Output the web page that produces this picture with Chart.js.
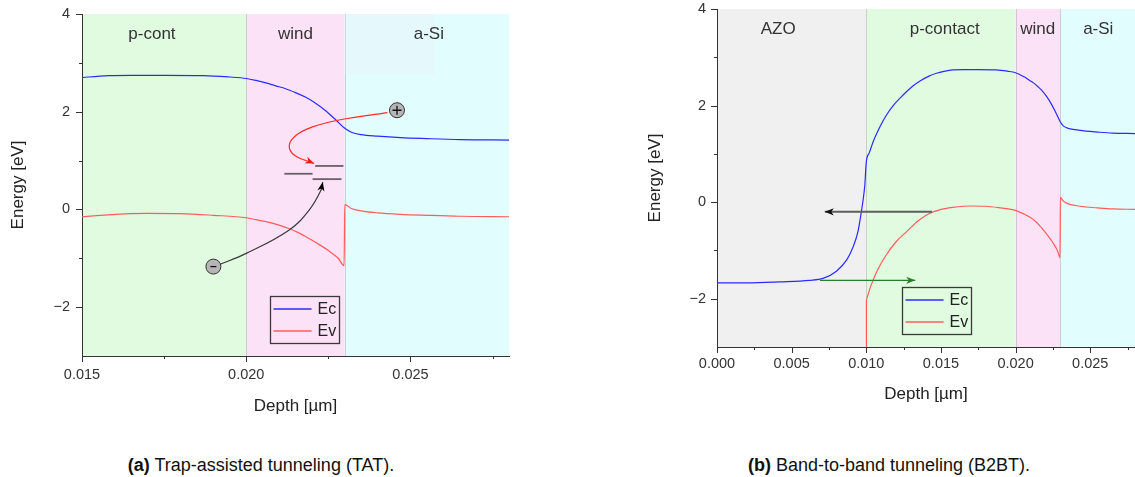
<!DOCTYPE html>
<html>
<head>
<meta charset="utf-8">
<script src="https://cdn.jsdelivr.net/npm/chart.js@4.4.1/dist/chart.umd.min.js"></script>
<style>
  html, body { margin: 0; padding: 0; background: #fff; }
  body { width: 1135px; height: 477px; position: relative; overflow: hidden; font-family: "Liberation Sans", Arial, sans-serif; }
  .panel { position: absolute; top: 0; }
  #panelA { left: 0; width: 520px; height: 421px; }
  #panelB { left: 640px; width: 495px; height: 409px; }
  .caption { position: absolute; top: 456px; font-size: 18px; line-height: 18px; color: #111; white-space: nowrap; transform: translateX(-50%); }
</style>
</head>
<body>
<div class="panel" id="panelA"><canvas id="tatChart"></canvas></div>
<div class="panel" id="panelB"><canvas id="b2btChart"></canvas></div>
<div class="caption" style="left:261px"><b>(a)</b> Trap-assisted tunneling (TAT).</div>
<div class="caption" style="left:889px"><b>(b)</b> Band-to-band tunneling (B2BT).</div>

<script>
// Band edges through the stack, depth in µm, energy in eV
const ecDepth = [0, 0.002, 0.0042, 0.0062, 0.0071, 0.0080, 0.0087, 0.0091, 0.00945, 0.00967,
  0.00978, 0.0099, 0.0100, 0.0102, 0.0105, 0.0109, 0.0113, 0.0118, 0.0125, 0.0131,
  0.0136, 0.0142, 0.0147, 0.0152, 0.0158, 0.0165, 0.0175, 0.0187, 0.0195, 0.0200,
  0.0203, 0.0206, 0.0209, 0.0212, 0.0215, 0.0218, 0.0221, 0.0224, 0.0227, 0.0230,
  0.0232, 0.0235, 0.0240, 0.0247, 0.0255, 0.0265, 0.0280];
const ecEnergy = [-1.67, -1.67, -1.65, -1.62, -1.58, -1.43, -1.19, -0.94, -0.60, -0.20,
  0.03, 0.35, 0.83, 1.02, 1.28, 1.55, 1.78, 2.00, 2.23, 2.40,
  2.51, 2.61, 2.67, 2.71, 2.74, 2.745, 2.745, 2.74, 2.71, 2.68,
  2.64, 2.59, 2.53, 2.47, 2.39, 2.30, 2.18, 2.03, 1.85, 1.66,
  1.58, 1.53, 1.50, 1.47, 1.45, 1.43, 1.42];

// Ev starts below the axis at the AZO interface
const evDepth = [0.0100, 0.01001, 0.0103, 0.0107, 0.0113, 0.0120, 0.0127, 0.0135, 0.0142, 0.0149,
  0.0158, 0.0170, 0.0180, 0.0190, 0.0200, 0.0203, 0.0206, 0.0210, 0.0213, 0.0216,
  0.0219, 0.0222, 0.0225, 0.0228, 0.02298, 0.0230, 0.0232, 0.0235, 0.0240, 0.0247,
  0.0255, 0.0265, 0.0280];
const evEnergy = [-3.4, -2.02, -1.74, -1.44, -1.11, -0.82, -0.61, -0.38, -0.24, -0.16,
  -0.11, -0.08, -0.085, -0.12, -0.17, -0.21, -0.25, -0.32, -0.39, -0.48,
  -0.59, -0.71, -0.84, -1.00, -1.15, 0.10, 0.02, -0.03, -0.07, -0.10,
  -0.12, -0.14, -0.15];

// layer stack
const layersA = ['p-cont', 'wind', 'a-Si'];
const edgesA = [0.015, 0.020, 0.023, 0.028];
const layersB = ['AZO', 'p-contact', 'wind', 'a-Si'];
const edgesB = [0.000, 0.010, 0.020, 0.023, 0.028];

// axis ticks
const xMajorA = [0.015, 0.020, 0.025];
const xMinorA = [0.0175, 0.0225, 0.0275];
const xMajorB = [0.000, 0.005, 0.010, 0.015, 0.020, 0.025];
const xMinorB = [0.0025, 0.0075, 0.0125, 0.0175, 0.0225, 0.0275];
const yMajor = [-2, 0, 2, 4];
const yMinor = [-1, 1, 3];
const yLabels = ['\u22122', '0', '2', '4'];

// TAT sketch: carriers, trap levels and their paths [depth, energy]
const electronAt = [0.0190, -1.17];
const holeAt = [0.02459, 2.03];
const trapLevels = [[0.02210, 0.02296, 0.89], [0.02116, 0.02202, 0.73], [0.02202, 0.02290, 0.62]];
const holePath = [[0.02430, 1.98], [0.02283, 1.83], [0.02202, 1.69], [0.02152, 1.52], [0.02131, 1.31], [0.02147, 1.11], [0.02207, 0.94]];
const electronPath = [[0.01914, -1.14], [0.0200, -0.90], [0.02131, -0.42], [0.02192, -0.01], [0.02228, 0.40], [0.02233, 0.56]];

// B2BT sketch: horizontal tunneling transitions
const tunnelBack = [[0.01440, -0.20], [0.00722, -0.20]];
const tunnelForward = [[0.00689, -1.62], [0.01328, -1.62]];

const FONT = "'Liberation Sans', Arial, sans-serif";
const tickFont = { family: FONT, size: 14.5 };
const titleFont = { family: FONT, size: 17 };

const pts = (xs, ys) => xs.map((x, i) => ({ x, y: ys[i] }));
const pairs = list => list.map(([x, y]) => ({ x, y }));
const near = (a, b) => Math.abs(a - b) < 1e-9;

// background layers with names
const layerPlugin = {
  id: 'layers',
  beforeDraw(chart, args, opts) {
    const { ctx, chartArea: a, scales: { x, y } } = chart;
    ctx.save();
    for (let i = 0; i < opts.edges.length - 1; i++) {
      const x0 = x.getPixelForValue(opts.edges[i]);
      const x1 = x.getPixelForValue(opts.edges[i + 1]);
      ctx.fillStyle = opts.fills[i];
      ctx.fillRect(x0, a.top, x1 - x0, a.bottom - a.top);
      if (i > 0) {
        ctx.strokeStyle = 'rgba(160,160,160,0.45)';
        ctx.lineWidth = 1;
        ctx.beginPath();
        ctx.moveTo(Math.round(x0) + 0.5, a.top);
        ctx.lineTo(Math.round(x0) + 0.5, a.bottom);
        ctx.stroke();
      }
    }
    if (opts.backdrop) {
      const [d0, d1, e0, e1] = opts.backdrop;
      ctx.fillStyle = '#e5f9fc';
      ctx.fillRect(x.getPixelForValue(d0) + 1, y.getPixelForValue(e1),
        x.getPixelForValue(d1) - x.getPixelForValue(d0) - 1, y.getPixelForValue(e0) - y.getPixelForValue(e1));
    }
    ctx.fillStyle = '#333';
    ctx.font = `17px ${FONT}`;
    ctx.textAlign = 'center';
    ctx.textBaseline = 'middle';
    opts.names.forEach((name, i) => {
      ctx.fillText(name, x.getPixelForValue(opts.nameAt[i]), y.getPixelForValue(opts.nameEnergy));
    });
    ctx.restore();
  }
};

// major and minor tick marks, drawn outward
const tickPlugin = {
  id: 'tickMarks',
  afterDraw(chart) {
    const { ctx, scales: { x, y } } = chart;
    ctx.save();
    ctx.strokeStyle = '#333';
    ctx.lineWidth = 1;
    ctx.beginPath();
    x.ticks.forEach(t => {
      const px = Math.round(x.getPixelForValue(t.value)) + 0.5;
      ctx.moveTo(px, x.top);
      ctx.lineTo(px, x.top + (t.label ? 6 : 3));
    });
    y.ticks.forEach(t => {
      const py = Math.round(y.getPixelForValue(t.value)) + 0.5;
      ctx.moveTo(y.right, py);
      ctx.lineTo(y.right - (t.label ? 6 : 3), py);
    });
    ctx.stroke();
    ctx.restore();
  }
};

// arrow heads and carrier signs
const markPlugin = {
  id: 'marks',
  afterDatasetsDraw(chart) {
    const { ctx } = chart;
    chart.data.datasets.forEach((d, i) => {
      const el = chart.getDatasetMeta(i).data;
      if (d.head) {
        const tip = el[el.length - 1];
        const prev = el[el.length - 2];
        let bx = prev.x, by = prev.y;
        if (tip.cp1x !== undefined && Math.hypot(tip.cp1x - tip.x, tip.cp1y - tip.y) > 1) {
          bx = tip.cp1x; by = tip.cp1y;
        }
        ctx.save();
        ctx.translate(tip.x, tip.y);
        ctx.rotate(Math.atan2(tip.y - by, tip.x - bx));
        ctx.beginPath();
        ctx.moveTo(0, 0);
        ctx.lineTo(-9, -3.6);
        ctx.lineTo(-6.5, 0);
        ctx.lineTo(-9, 3.6);
        ctx.closePath();
        ctx.fillStyle = d.head;
        ctx.fill();
        ctx.restore();
      }
      if (d.sign) {
        const p = el[0];
        ctx.save();
        ctx.strokeStyle = '#111';
        ctx.lineWidth = 1.3;
        ctx.beginPath();
        const r = d.sign === '+' ? 4.5 : 3;
        ctx.moveTo(p.x - r, p.y);
        ctx.lineTo(p.x + r, p.y);
        if (d.sign === '+') {
          ctx.moveTo(p.x, p.y - r);
          ctx.lineTo(p.x, p.y + r);
        }
        ctx.stroke();
        ctx.restore();
      }
    });
  }
};

// Ec / Ev key box
const keyPlugin = {
  id: 'key',
  afterDraw(chart, args, opts) {
    const { ctx, scales: { x, y } } = chart;
    const left = Math.round(x.getPixelForValue(opts.at[0])) + 0.5;
    const top = Math.round(y.getPixelForValue(opts.at[1])) + 0.5;
    ctx.save();
    ctx.strokeStyle = '#3a3a3a';
    ctx.lineWidth = 1.3;
    ctx.strokeRect(left, top, 69, 47);
    ctx.font = `16px ${FONT}`;
    ctx.textBaseline = 'middle';
    ctx.fillStyle = '#222';
    chart.data.datasets.filter(d => d.inKey).forEach((d, i) => {
      const cy = Math.round(top + 12 + i * 22.5);
      ctx.strokeStyle = d.borderColor;
      ctx.lineWidth = 1.3;
      ctx.beginPath();
      ctx.moveTo(left + 3, cy);
      ctx.lineTo(left + 41, cy);
      ctx.stroke();
      ctx.fillText(d.label, left + 47, cy + 1);
    });
    ctx.restore();
  }
};

function xAxis(min, max, major, minor, pad, height) {
  const all = major.concat(minor).sort((a, b) => a - b);
  return {
    type: 'linear', min, max,
    afterBuildTicks: s => { s.ticks = all.map(v => ({ value: v })); },
    afterFit: s => { s.height = height; s.paddingLeft = 0; s.paddingRight = 0; },
    grid: { display: false, drawTicks: false },
    border: { display: true, color: '#333', width: 1 },
    ticks: {
      autoSkip: false, maxRotation: 0, padding: pad, color: '#333', font: tickFont,
      callback: v => major.some(m => near(m, v)) ? v.toFixed(3) : ''
    },
    title: { display: true, text: 'Depth [\u00b5m]', color: '#222', font: titleFont, padding: { top: 0, bottom: 4 } }
  };
}

function yAxis(pad, width, titlePad) {
  const all = yMajor.concat(yMinor).sort((a, b) => a - b);
  return {
    type: 'linear', min: -3, max: 4,
    afterBuildTicks: s => { s.ticks = all.map(v => ({ value: v })); },
    afterFit: s => { s.width = width; s.paddingTop = 0; s.paddingBottom = 0; },
    grid: { display: false, drawTicks: false },
    border: { display: true, color: '#333', width: 1 },
    ticks: {
      autoSkip: false, padding: pad, color: '#333', font: tickFont,
      callback: v => {
        const k = yMajor.findIndex(m => near(m, v));
        return k >= 0 ? yLabels[k] : '';
      }
    },
    title: { display: true, text: 'Energy [eV]', color: '#222', font: titleFont, padding: { top: titlePad, bottom: 0 } }
  };
}

const EC_COLOR = '#2b2bff';
const EV_COLOR = '#ff5c5c';
const ecLine = { label: 'Ec', inKey: true, borderColor: EC_COLOR, borderWidth: 1.2, pointRadius: 0, cubicInterpolationMode: 'monotone' };
const evLine = { label: 'Ev', inKey: true, borderColor: EV_COLOR, borderWidth: 1.2, pointRadius: 0, cubicInterpolationMode: 'monotone' };
const carrier = { showLine: false, pointRadius: 7.5, pointBackgroundColor: '#b5b5b5', pointBorderColor: '#333', pointBorderWidth: 1 };

// the vertical Ev edge at the AZO interface is kept straight, the rest is smoothed
const evAll = pts(evDepth, evEnergy);
const evDatasets = () => [
  { ...evLine, data: evAll.slice(1) },
  { data: evAll.slice(0, 2), borderColor: EV_COLOR, borderWidth: 1.2, pointRadius: 0 }
];

const fills = { 'AZO': '#f0f0f0', 'p-cont': '#e1fbe1', 'p-contact': '#e1fbe1', 'wind': '#fce2f7', 'a-Si': '#e2fdfd' };

function baseOptions(padding, xs, ys, layerOpts, keyAt) {
  return {
    responsive: true,
    maintainAspectRatio: false,
    animation: false,
    events: [],
    layout: { padding },
    scales: { x: xs, y: ys },
    plugins: {
      legend: { display: false },
      tooltip: { enabled: false },
      layers: layerOpts,
      key: { at: keyAt }
    }
  };
}

new Chart(document.getElementById('tatChart'), {
  type: 'line',
  data: {
    datasets: [
      { ...carrier, data: pairs([holeAt]), sign: '+' },
      { ...carrier, data: pairs([electronAt]), sign: '-' },
      { data: pairs(holePath), borderColor: '#ff2a2a', borderWidth: 1.2, pointRadius: 0, tension: 0.4, head: '#ff1a1a' },
      { data: pairs(electronPath), borderColor: '#3a3a3a', borderWidth: 1.2, pointRadius: 0, tension: 0.4, head: '#000' },
      ...trapLevels.map(([d0, d1, e]) => ({
        data: [{ x: d0, y: e }, { x: d1, y: e }], borderColor: '#6a5f6a', borderWidth: 1.8, pointRadius: 0
      })),
      { ...ecLine, data: pts(ecDepth, ecEnergy) },
      ...evDatasets()
    ]
  },
  options: baseOptions(
    { top: 14, right: 11, left: 0, bottom: 0 },
    xAxis(0.015, 0.028, xMajorA, xMinorA, 10, 65),
    yAxis(12, 82, 8),
    {
      edges: edgesA, fills: layersA.map(n => fills[n]), names: layersA,
      nameAt: [0.01713, 0.0215, 0.02556], nameEnergy: 3.58,
      backdrop: [0.023, 0.02575, 2.75, 4]
    },
    [0.02073, -1.77]
  ),
  plugins: [layerPlugin, tickPlugin, markPlugin, keyPlugin]
});

new Chart(document.getElementById('b2btChart'), {
  type: 'line',
  data: {
    datasets: [
      { data: pairs(tunnelBack), borderColor: '#5e5e5e', borderWidth: 2, pointRadius: 0, head: '#111' },
      { data: pairs(tunnelForward), borderColor: '#2a7d2a', borderWidth: 1.3, pointRadius: 0, head: '#2a7d2a' },
      { ...ecLine, data: pts(ecDepth, ecEnergy) },
      ...evDatasets()
    ]
  },
  options: baseOptions(
    { top: 9, right: 0, left: 0, bottom: 0 },
    xAxis(0, 0.028, xMajorB, xMinorB, 8, 62),
    yAxis(11, 77, 5),
    {
      edges: edgesB, fills: layersB.map(n => fills[n]), names: layersB,
      nameAt: [0.0041, 0.01525, 0.02148, 0.02554], nameEnergy: 3.58
    },
    [0.01241, -1.76]
  ),
  plugins: [layerPlugin, tickPlugin, markPlugin, keyPlugin]
});
</script>
</body>
</html>
